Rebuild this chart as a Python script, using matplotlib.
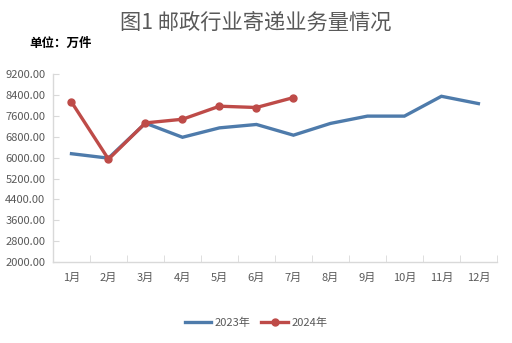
import matplotlib
matplotlib.use("Agg")
import matplotlib.pyplot as plt
from matplotlib.ticker import FixedLocator, FuncFormatter

plt.rcParams['font.family'] = ['Noto Sans CJK SC', 'DejaVu Sans']

meses = ['1月', '2月', '3月', '4月', '5月', '6月', '7月', '8月', '9月', '10月', '11月', '12月']
vol_2023 = [6150, 5980, 7320, 6780, 7140, 7270, 6860, 7310, 7590, 7590, 8350, 8070]
vol_2024 = [8130, 5940, 7330, 7470, 7970, 7920, 8300]
ticks_y = [2000, 2800, 3600, 4400, 5200, 6000, 6800, 7600, 8400, 9200]

cinza = '#595959'
azul = '#4e7bab'
vermelho = '#be4b48'

fig = plt.figure(figsize=(5.12, 3.43), dpi=100)
ax = fig.add_axes([0.1035, 0.236, 0.867, 0.548])

x23 = list(range(len(vol_2023)))
x24 = list(range(len(vol_2024)))
ax.plot(x23, vol_2023, color=azul, lw=2.4, label='2023年', solid_joinstyle='miter')
ax.plot(x24, vol_2024, color=vermelho, lw=2.4, marker='o', ms=5, label='2024年')

ax.set_xlim(-0.5, len(meses) - 0.5)
ax.set_ylim(2000, 9200)
ax.yaxis.set_major_locator(FixedLocator(ticks_y))
ax.yaxis.set_major_formatter(FuncFormatter(lambda v, p: f'{v:.2f}'))
ax.set_xticks(x23)
ax.set_xticklabels(meses)
ax.set_xticks([i - 0.5 for i in range(len(meses) + 1)], minor=True)

for lado in ['top', 'right']:
    ax.spines[lado].set_visible(False)
for lado in ['left', 'bottom']:
    ax.spines[lado].set_color('#d9d9d9')
    ax.spines[lado].set_linewidth(1)

ax.tick_params(axis='y', direction='in', length=4, color='#d9d9d9', labelsize=8,
               labelcolor=cinza, pad=5.5)
ax.tick_params(axis='x', which='major', length=0, labelsize=8, labelcolor=cinza, pad=8)
ax.tick_params(axis='x', which='minor', direction='in', length=5, color='#d9d9d9')

fig.text(0.5, 0.932, '图1 邮政行业寄递业务量情况', ha='center', va='center',
         fontsize=15.3, color=cinza)
fig.text(0.058, 0.873, '单位：万件', ha='left', va='center', fontsize=9,
         fontweight='bold', color='black')

fig.legend(loc='center', bbox_to_anchor=(0.50, 0.058), ncol=2, frameon=False,
           fontsize=8, labelcolor=cinza, handlelength=2.4, columnspacing=1.0,
           handletextpad=0.3)

fig.savefig('out.png', dpi=100)
